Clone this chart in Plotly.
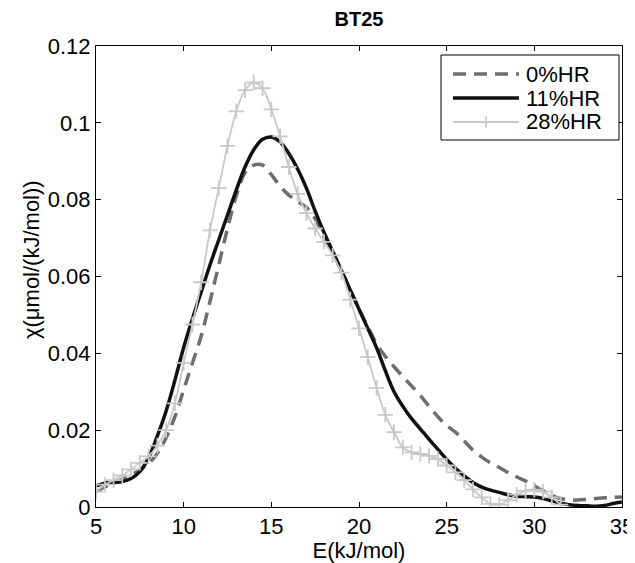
import plotly.graph_objects as go

# ---- data ----
x_full = [5.0 + 0.5 * i for i in range(61)]          # 5 .. 35
x_28 = [5.0 + 0.5 * i for i in range(54)]            # 5 .. 31.5

hr0 = [0.0040, 0.0052, 0.0062, 0.0072, 0.0083, 0.0097, 0.0113, 0.0140, 0.0180, 0.0235,
       0.0305, 0.0375, 0.0445, 0.0535, 0.0630, 0.0725, 0.0810, 0.0870, 0.0890, 0.0890,
       0.0865, 0.0835, 0.0812, 0.0795, 0.0780, 0.0750, 0.0705, 0.0665, 0.0615, 0.0565,
       0.0515, 0.0470, 0.0425, 0.0392, 0.0365, 0.0340, 0.0315, 0.0290, 0.0262, 0.0235,
       0.0212, 0.0195, 0.0172, 0.0148, 0.0130, 0.0115, 0.0103, 0.0090, 0.0078, 0.0068,
       0.0055, 0.0042, 0.0030, 0.0022, 0.0018, 0.0018, 0.0020, 0.0022, 0.0024, 0.0025,
       0.0026]

hr11 = [0.0055, 0.0062, 0.0064, 0.0066, 0.0074, 0.0092, 0.0128, 0.0185, 0.0250, 0.0330,
        0.0415, 0.0490, 0.0560, 0.0630, 0.0695, 0.0760, 0.0825, 0.0885, 0.0930, 0.0957,
        0.0963, 0.0950, 0.0920, 0.0880, 0.0830, 0.0770, 0.0715, 0.0665, 0.0615, 0.0565,
        0.0515, 0.0465, 0.0415, 0.0355, 0.0300, 0.0262, 0.0230, 0.0203, 0.0176, 0.0150,
        0.0124, 0.0101, 0.0081, 0.0064, 0.0052, 0.0044, 0.0038, 0.0032, 0.0028, 0.0027,
        0.0026, 0.0022, 0.0016, 0.0010, 0.0006, 0.0004, 0.0003, 0.0002, 0.0004, 0.0009,
        0.0013]

hr28 = [0.0040, 0.0058, 0.0070, 0.0082, 0.0098, 0.0115, 0.0132, 0.0160, 0.0200, 0.0270,
        0.0375, 0.0475, 0.0585, 0.0720, 0.0830, 0.0940, 0.1030, 0.1085, 0.1105, 0.1090,
        0.1035, 0.0965, 0.0885, 0.0815, 0.0765, 0.0725, 0.0690, 0.0655, 0.0610, 0.0540,
        0.0465, 0.0390, 0.0310, 0.0240, 0.0195, 0.0155, 0.0142, 0.0138, 0.0133, 0.0125,
        0.0108, 0.0090, 0.0070, 0.0046, 0.0025, 0.0008, 0.0006, 0.0018, 0.0032, 0.0042,
        0.0045, 0.0040, 0.0025, 0.0006]

series_names = ["0%HR", "11%HR", "28%HR"]
x_ticks = [5, 10, 15, 20, 25, 30, 35]
y_ticks = [0, 0.02, 0.04, 0.06, 0.08, 0.1, 0.12]
y_tick_labels = ["0", "0.02", "0.04", "0.06", "0.08", "0.1", "0.12"]

FONT = "Liberation Sans, Arial, sans-serif"
FS = 22

C0, C11, C28 = "#6e6e6e", "#111111", "#c8c8c8"
DASH = "13px,8px"

fig = go.Figure()
fig.add_trace(go.Scatter(x=x_full, y=hr0, mode="lines", name=series_names[0],
                         line=dict(color=C0, width=3.5, dash=DASH, shape="spline")))
fig.add_trace(go.Scatter(x=x_full, y=hr11, mode="lines", name=series_names[1],
                         line=dict(color=C11, width=3.5, shape="spline")))
fig.add_trace(go.Scatter(x=x_28, y=hr28, mode="lines+markers", name=series_names[2],
                         line=dict(color=C28, width=1.8, shape="spline"),
                         marker=dict(symbol="cross-thin", size=11,
                                     line=dict(color=C28, width=1.8))))

axis_common = dict(showline=True, linecolor="black", linewidth=1, mirror="allticks",
                   ticks="inside", ticklen=5, tickcolor="black", showgrid=False,
                   zeroline=False, automargin=False,
                   tickfont=dict(family=FONT, size=FS, color="black"))

# page body has an 8px margin; the figure is sized to fit the 635x563 window
OFF = 8
W, H = 635 - OFF, 563 - OFF
# plot area in window pixels (from the reference)
L, R, T, B = 96, 622, 46, 507


def px(xp):
    return (xp - L) / (R - L)


def py(yp):
    return (B - yp) / (B - T)


# manual legend (MATLAB-style box with long line samples)
shapes = [dict(type="rect", xref="paper", yref="paper",
               x0=px(441), x1=px(619), y0=py(140), y1=py(55),
               line=dict(color="black", width=1), fillcolor="white", layer="above")]
annotations = []
rows = [74, 98, 122]
styles = [dict(color=C0, width=3.5, dash=DASH), dict(color=C11, width=3.5),
          dict(color=C28, width=1.8)]
for name, ry, st in zip(series_names, rows, styles):
    shapes.append(dict(type="line", xref="paper", yref="paper",
                       x0=px(453), x1=px(519), y0=py(ry), y1=py(ry),
                       line=st, layer="above"))
    annotations.append(dict(text=name, xref="paper", yref="paper", x=px(524), y=py(ry),
                            xanchor="left", yanchor="middle", showarrow=False,
                            font=dict(family=FONT, size=FS, color="black")))
shapes.append(dict(type="line", xref="paper", yref="paper",
                   x0=px(486), x1=px(486), y0=py(rows[2] - 5.5), y1=py(rows[2] + 5.5),
                   line=dict(color=C28, width=1.8), layer="above"))

# y-axis title placed as in the reference
annotations.append(dict(text="χ(μmol/(kJ/mol))", xref="paper", yref="paper",
                        x=px(31), y=py(260), xanchor="center", yanchor="middle",
                        textangle=-90, showarrow=False,
                        font=dict(family=FONT, size=FS, color="black")))

fig.update_layout(
    width=W, height=H,
    margin=dict(l=L - OFF, r=W - (R - OFF), t=T - OFF, b=H - (B - OFF), autoexpand=False),
    paper_bgcolor="white", plot_bgcolor="white",
    title=dict(text="<b>BT25</b>", x=((L + R) / 2 - OFF) / W, xanchor="center",
               xref="container", yref="container",
               y=1 - (19 - OFF) / H, yanchor="middle",
               font=dict(family=FONT, size=20, color="black")),
    xaxis=dict(range=[5, 35], tickvals=x_ticks,
               title=dict(text="E(kJ/mol)", standoff=2,
                          font=dict(family=FONT, size=FS, color="black")),
               **axis_common),
    yaxis=dict(range=[0, 0.12], tickvals=y_ticks, ticktext=y_tick_labels,
               **axis_common),
    shapes=shapes,
    annotations=annotations,
    showlegend=False,
)

fig.write_html("out.html")
